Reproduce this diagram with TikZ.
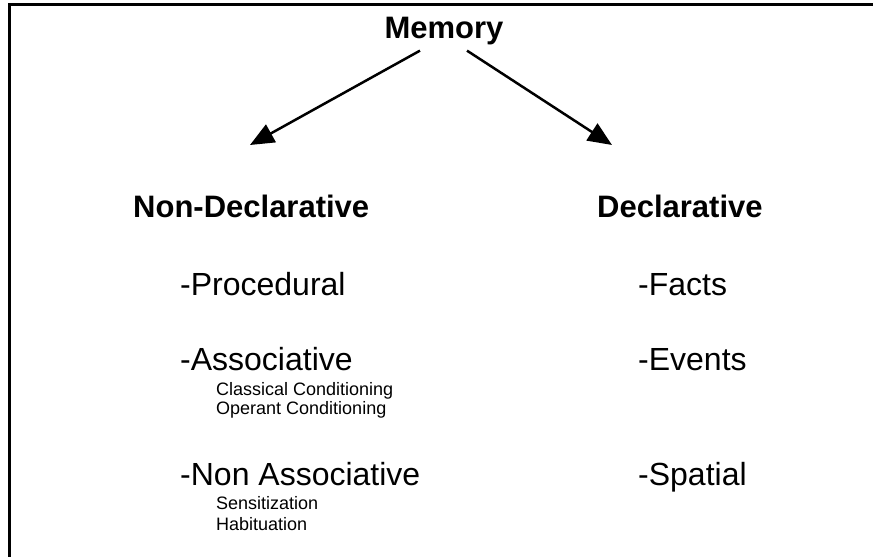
\documentclass[tikz,border=0pt]{standalone}
\usepackage{xcolor}
\usepackage{fontspec}
\setmainfont{Liberation Sans}
\usepackage{tikz}
\usetikzlibrary{arrows.meta}

\tikzset{
    heading/.style={font=\bfseries\fontsize{31}{36}\selectfont, inner sep=0pt},
    item/.style={font=\fontsize{32}{38}\selectfont, inner sep=0pt, anchor=base west},
    subitem/.style={font=\fontsize{18}{21}\selectfont, inner sep=0pt, anchor=base west},
    memarrow/.style={line width=2.5pt, -{Triangle[length=24pt,width=20pt]}}
}

\begin{document}
\begin{tikzpicture}[x=1pt, y=-1pt]
    \useasboundingbox (0,0) rectangle (873,557);
    % Frame of the scan (top and left only)
    \draw[line width=3pt] (9,557) -- (9,4) -- (873,4);

    % Root and the two branches
    \node[heading, anchor=base] (memory) at (444,38) {Memory};
    \node[heading, anchor=base west] (nondecl) at (133,217) {Non-Declarative};
    \node[heading, anchor=base west] (decl) at (597,217) {Declarative};

    \coordinate (tipL) at (250,145);
    \coordinate (tipR) at (612,145);
    \draw[memarrow] ([xshift=-24pt, yshift=-6pt]memory.south) -- (tipL);
    \draw[memarrow] ([xshift=23pt, yshift=-6pt]memory.south) -- (tipR);

    % Left column
    \foreach \name/\y/\txt in {proc/295/-Procedural, assoc/370/-Associative, nonassoc/485/-Non Associative} {
        \node[item] (\name) at (180,\y) {\txt};
    }
    \foreach \name/\y/\txt in {classical/395/Classical Conditioning, operant/414/Operant Conditioning, sens/509/Sensitization, habit/530/Habituation} {
        \node[subitem] (\name) at (216,\y) {\txt};
    }

    % Right column
    \foreach \name/\y/\txt in {facts/295/-Facts, events/370/-Events, spatial/485/-Spatial} {
        \node[item] (\name) at (638,\y) {\txt};
    }
\end{tikzpicture}
\end{document}
